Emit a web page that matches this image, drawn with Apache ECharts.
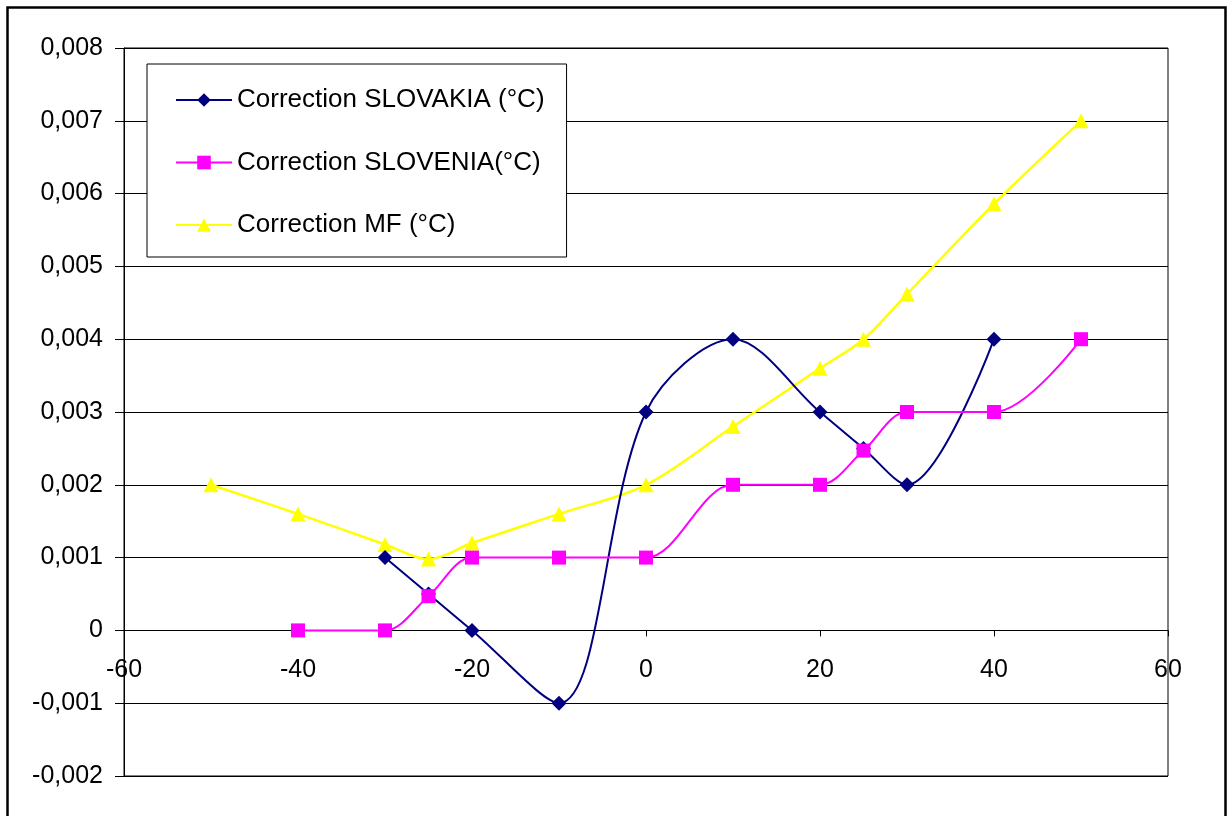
<!DOCTYPE html>
<html>
<head>
<meta charset="utf-8">
<script src="https://cdn.jsdelivr.net/npm/echarts@6/dist/echarts.min.js"></script>
<style>
html,body{margin:0;padding:0;background:#fff;}
#chart{width:1229px;height:816px;}
</style>
</head>
<body>
<div id="chart"></div>
<script>
const seriesNames = ['Correction SLOVAKIA (°C)', 'Correction SLOVENIA(°C)', 'Correction MF (°C)'];
const slovakiaX = [-30, -25, -20, -10, 0, 10, 20, 25, 30, 40];
const slovakiaY = [0.001, 0.0005, 0, -0.001, 0.003, 0.004, 0.003, 0.0025, 0.002, 0.004];
const sloveniaX = [-40, -30, -25, -20, -10, 0, 10, 20, 25, 30, 40, 50];
const sloveniaY = [0, 0, 0.00047, 0.001, 0.001, 0.001, 0.002, 0.002, 0.00247, 0.003, 0.003, 0.004];
const mfX = [-50, -40, -30, -25, -20, -10, 0, 10, 20, 25, 30, 40, 50];
const mfY = [0.002, 0.0016, 0.00118, 0.00098, 0.0012, 0.0016, 0.002, 0.0028, 0.0036, 0.004, 0.00462, 0.00586, 0.007];

const pairs = (xs, ys) => xs.map((x, i) => [x, ys[i]]);
const font = "'Liberation Sans', Arial, sans-serif";

const yMin = -0.002, yMax = 0.008;
const gridTop = 48, gridBottom = 40, chartH = 816;
const plotH = chartH - gridTop - gridBottom;
// distance from the plot bottom to the y = 0 line (x axis crosses there)
const zeroOffset = -plotH * (0 - yMin) / (yMax - yMin);

const chart = echarts.init(document.getElementById('chart'), null, {renderer: 'canvas'});
chart.setOption({
  animation: false,
  backgroundColor: '#fff',
  grid: {left: 124, right: 61, top: gridTop, bottom: gridBottom, show: true, borderColor: '#000', borderWidth: 1, backgroundColor: 'transparent', containLabel: false},
  xAxis: {
    type: 'value', min: -60, max: 60, interval: 20,
    position: 'bottom', offset: zeroOffset,
    axisLine: {show: true, onZero: false, lineStyle: {color: '#000', width: 1}},
    axisTick: {show: true, length: 6, lineStyle: {color: '#000'}},
    splitLine: {show: false},
    axisLabel: {color: '#000', fontFamily: font, fontSize: 25, margin: 27, showMinLabel: true, showMaxLabel: true}
  },
  yAxis: {
    type: 'value', min: yMin, max: yMax, interval: 0.001,
    axisLine: {show: true, onZero: false, lineStyle: {color: '#000', width: 1}},
    axisTick: {show: true, length: 9, lineStyle: {color: '#000'}},
    splitLine: {show: true, lineStyle: {color: '#000', width: 1}},
    axisLabel: {
      color: '#000', fontFamily: font, fontSize: 25, margin: 21,
      formatter: v => Math.abs(v) < 1e-9 ? '0' : v.toFixed(3).replace('.', ',')
    }
  },
  legend: {
    orient: 'vertical', left: 147, top: 64,
    padding: [23, 22, 19, 28],
    itemGap: 36.5, itemWidth: 56, itemHeight: 17,
    borderColor: '#000', borderWidth: 1, backgroundColor: '#fff',
    textStyle: {color: '#000', fontFamily: font, fontSize: 26},
    data: seriesNames
  },
  series: [
    {
      name: seriesNames[0], type: 'line', data: pairs(slovakiaX, slovakiaY), smooth: 0.33,
      symbol: 'diamond', symbolSize: 15, z: 4,
      lineStyle: {color: '#000080', width: 2}, itemStyle: {color: '#000080'}
    },
    {
      name: seriesNames[1], type: 'line', data: pairs(sloveniaX, sloveniaY), smooth: 0.33,
      symbol: 'rect', symbolSize: 14, z: 5,
      lineStyle: {color: '#FF00FF', width: 2}, itemStyle: {color: '#FF00FF'}
    },
    {
      name: seriesNames[2], type: 'line', data: pairs(mfX, mfY), smooth: 0.33,
      symbol: 'triangle', symbolSize: 15, z: 3,
      lineStyle: {color: '#FFFF00', width: 2.5}, itemStyle: {color: '#FFFF00'}
    }
  ],
  graphic: [{
    type: 'rect', silent: true, z: 100,
    shape: {x: 7.5, y: 7.5, width: 1218, height: 900},
    style: {fill: 'none', stroke: '#000', lineWidth: 2.5}
  }]
});
</script>
</body>
</html>
